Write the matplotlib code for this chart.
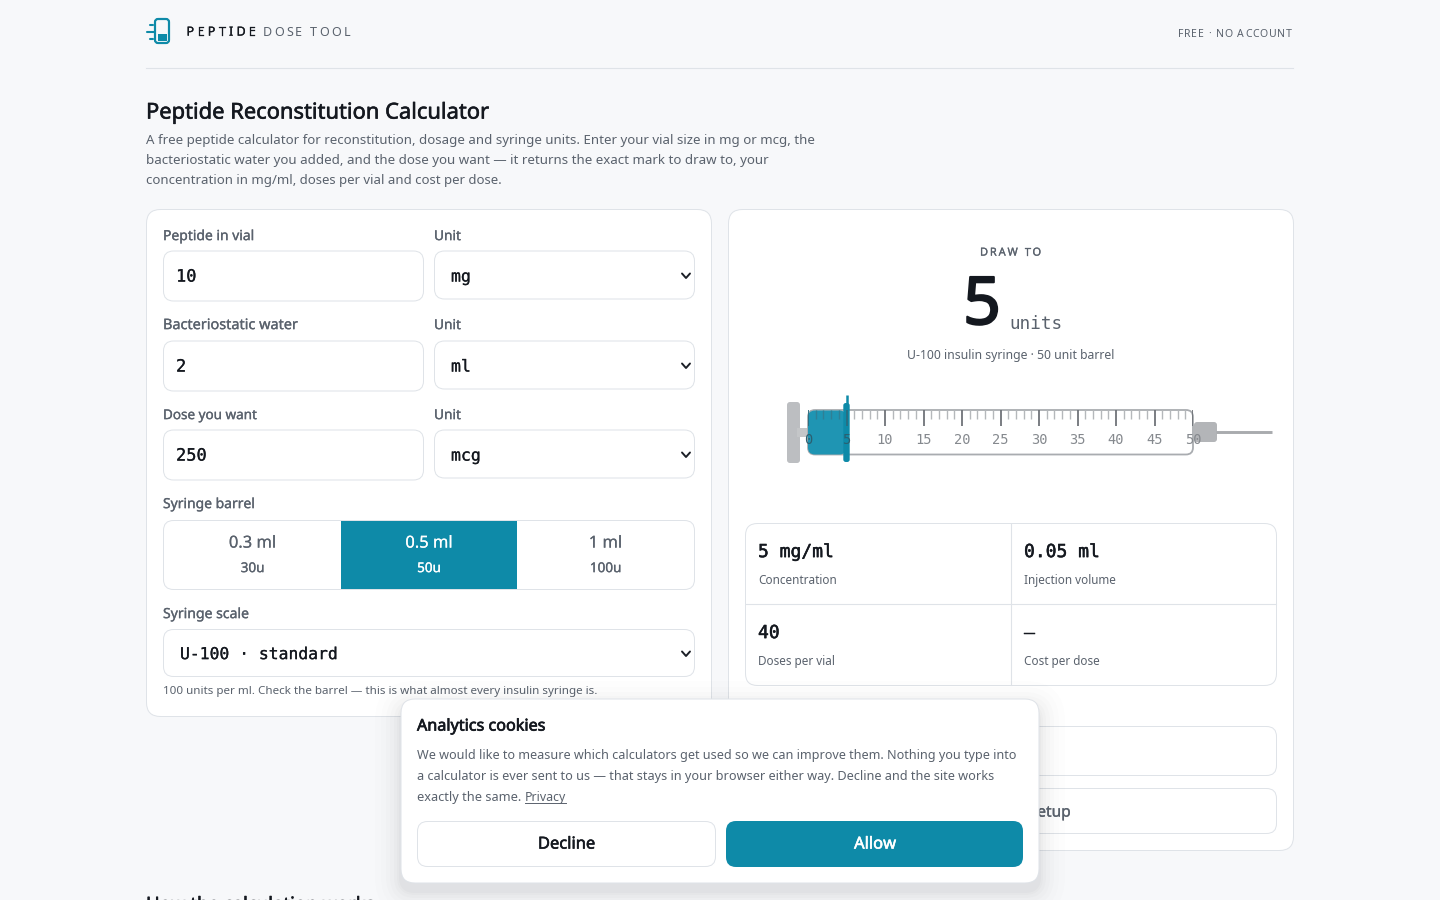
import matplotlib
matplotlib.use("Agg")
import matplotlib.pyplot as plt
import matplotlib.patheffects as pe
from matplotlib.patches import FancyBboxPatch, Rectangle

# ---------- data ----------
dose_units = 5
barrel_units = 50
label_ticks = [0, 5, 10, 15, 20, 25, 30, 35, 40, 45, 50]
minor_ticks = list(range(0, 51))
field_labels = ["Peptide in vial", "Bacteriostatic water", "Dose you want"]
field_label_widths = [91, 135, 94]
field_values = ["10", "2", "250"]
unit_values = ["mg", "ml", "mcg"]
barrel_names = ["0.3 ml", "0.5 ml", "1 ml"]
barrel_caps = ["30u", "50u", "100u"]
result_values = ["5 mg/ml", "0.05 ml", "40", "—"]
result_labels = ["Concentration", "Injection volume", "Doses per vial", "Cost per dose"]

BG = "#f7f8fa"; INK = "#14181f"; GREY = "#5a626d"; LINE = "#dfe3e8"; TEAL = "#0e8aa8"
SANS = "Noto Sans"; MONO = "DejaVu Sans Mono"
WEIGHT = {"normal": 0, "medium": 0.2, "semibold": 0.4, "bold": 0.5}

fig = plt.figure(figsize=(14.4, 9), dpi=100, facecolor=BG)
ax = fig.add_axes([0, 0, 1, 1])
ax.set_xlim(0, 1440); ax.set_ylim(900, 0); ax.axis("off")
R = fig.canvas.get_renderer()

def T(x, y, s, px=14, c=INK, w="normal", ha="left", fam=SANS, width=None, z=5, target=None, stroke=None, **k):
    t = (target or ax).text(x, y + 2.1, s, fontsize=px * 0.72, color=c, ha=ha, va="center",
                            family=fam, zorder=z, **k)
    if width:
        e = t.get_window_extent(R).width
        t.set_fontsize(px * 0.72 * width / e)
    sw = WEIGHT[w] if stroke is None else stroke
    if sw:
        t.set_path_effects([pe.withStroke(linewidth=sw, foreground=c)])
    return t

def TR(x0, x1, y, s, px=12, **k):
    """Letter-spaced text, spread between two pixel positions."""
    widths = []
    for ch in s:
        t = ax.text(0, 0, ch if ch != " " else "n", fontsize=px * 0.72, family=SANS)
        wd = t.get_window_extent(R).width
        t.remove()
        widths.append(wd * 0.45 if ch == " " else wd)
    track = (x1 - x0 - sum(widths)) / (len(s) - 1)
    x = x0
    for ch, wd in zip(s, widths):
        if ch != " ":
            T(x, y, ch, px=px, **k)
        x += wd + track

def box(x0, y0, x1, y1, r=10, fc="white", ec=LINE, lw=1, z=2, alpha=None, target=None):
    p = FancyBboxPatch((x0 + r, y0 + r), x1 - x0 - 2 * r, y1 - y0 - 2 * r,
                       boxstyle=f"round,pad={r},rounding_size={r}", fc=fc, ec=ec, lw=lw * 0.72,
                       zorder=z, alpha=alpha)
    (target or ax).add_patch(p)
    return p

def chevron(x, y, z=4):
    ax.plot([x - 4, x, x + 4], [y - 2, y + 2.5, y - 2], color="#1b1f26", lw=1.4, zorder=z,
            solid_capstyle="round")

# ---------- header ----------
box(155, 19, 169, 43, r=3, fc=BG, ec=TEAL, lw=2.2)
ax.add_patch(Rectangle((157.5, 34), 9, 6.5, fc=TEAL, ec="none", zorder=3))
for y, x0, x1 in [(25, 150, 153), (32, 147, 154), (39, 150, 153)]:
    ax.plot([x0, x1], [y, y], color=TEAL, lw=1.5, zorder=3, solid_capstyle="round")
TR(186.5, 256, 30, "PEPTIDE", px=12.5, w="medium")
TR(262.5, 350, 30, "DOSE TOOL", px=12.5, c=GREY)
TR(1178, 1292, 32, "FREE · NO ACCOUNT", px=10.5, c=GREY)
ax.plot([146, 1293], [68.3, 68.3], color=LINE, lw=0.8)

T(146, 111, "Peptide Reconstitution Calculator", px=23, w="semibold", width=343)
T(146, 138, "A free peptide calculator for reconstitution, dosage and syringe units. Enter your vial size in mg or mcg, the",
  px=14.5, c=GREY, width=665)
T(146, 158, "bacteriostatic water you added, and the dose you want — it returns the exact mark to draw to, your",
  px=14.5, c=GREY, width=620)
T(146, 178, "concentration in mg/ml, doses per vial and cost per dose.", px=14.5, c=GREY, width=354)

# ---------- left panel ----------
box(146.5, 209.5, 711.5, 716.5, r=14)
rows = [(234.5, 251, 301, 275), (323.5, 341, 391, 365), (413.5, 430, 480, 454)]
for (ly, y0, y1, ty), lab, lw_, val, un in zip(rows, field_labels, field_label_widths, field_values, unit_values):
    T(163, ly, lab, px=13.5, c=GREY, w="medium", width=lw_)
    T(434, ly, "Unit", px=13.5, c=GREY, w="medium", width=27)
    box(163.5, y0, 423.5, y1, r=10)
    T(176, ty - 0.5, val, px=17, fam=MONO, c=INK, stroke=0.15)
    box(434.5, y0, 694.5, y1 - 2, r=10)
    T(451, ty - 0.5, un, px=16.5, fam=MONO, c=INK, stroke=0.15)
    chevron(686, ty + 0.5)

T(163, 502.5, "Syringe barrel", px=13.5, c=GREY, w="medium", width=92)
box(163.5, 520.5, 694.5, 589.5, r=10)
ax.add_patch(Rectangle((341, 521), 176, 68, fc=TEAL, ec="none", zorder=3))
for cx, n, cp, act in zip([252.5, 429, 605.5], barrel_names, barrel_caps, [0, 1, 0]):
    T(cx, 541.5, n, px=16.5, c="white" if act else GREY, ha="center", stroke=0.1)
    T(cx, 566.5, cp, px=13.5, c="white" if act else GREY, ha="center", w="medium")

T(163, 612.5, "Syringe scale", px=13.5, c=GREY, w="medium", width=86)
box(163.5, 629.5, 694.5, 676.5, r=10)
T(180, 652.5, "U-100 · standard", px=17, fam=MONO, width=158, stroke=0.15)
chevron(686, 653.5)
T(163, 689.5, "100 units per ml. Check the barrel — this is what almost every insulin syringe is.",
  px=12, c=GREY, width=433)

# ---------- right panel ----------
box(728.5, 209.5, 1293.5, 850.5, r=14)
TR(980, 1041, 251, "DRAW TO", px=11, c=GREY, w="medium")
T(982, 305, str(dose_units), px=66, w="semibold", ha="center", stroke=1.5)
T(1009, 322, "units", px=20, c=GREY, fam=MONO, width=53)
T(1011, 353.5, "U-100 insulin syringe · 50 unit barrel", px=13, c=GREY, ha="center", width=208)

# syringe: overlay in pixels below the tick layer in barrel units
ox = fig.add_axes([0, 0, 1, 1], zorder=3)
ox.set_xlim(0, 1440); ox.set_ylim(900, 0); ox.axis("off"); ox.patch.set_alpha(0)
sx = fig.add_axes([808 / 1440, 1 - 455 / 900, (1193 - 808) / 1440, 45 / 900], zorder=4)
sx.set_xlim(0, barrel_units); sx.set_ylim(45, 0); sx.axis("off"); sx.patch.set_alpha(0)
G = "#a9acb0"
u2x = lambda u: 808 + u * 385.0 / barrel_units

# plunger
box(787, 402, 800, 463, r=3, fc="#bcbec1", ec="none", z=3)
ax.add_patch(Rectangle((797, 428), 12, 9, fc="#c4c6c8", ec="none", zorder=3))
# barrel
box(u2x(0), 410, u2x(barrel_units), 454.5, r=7, fc="white", ec=G, lw=1.8, z=3)
# needle hub + needle
box(1194, 422, 1217, 442, r=3, fc="#b3b5b8", ec="none", z=3)
ax.plot([1216, 1272], [432.3, 432.3], color="#a9abae", lw=2.1, zorder=3, solid_capstyle="butt")
# liquid fill
box(u2x(0), 410.5, u2x(dose_units), 454.5, r=7, fc="#1f95b3", ec="none", z=4, target=ox)
# plunger head at dose mark
ox.plot([u2x(dose_units)] * 2, [395, 411], color=TEAL, lw=1.8, zorder=5, solid_capstyle="butt")
box(u2x(dose_units) - 3.2, 403, u2x(dose_units) + 3.2, 462, r=2.5, fc=TEAL, ec="none", z=5, target=ox)
# ticks and labels
for u in minor_ticks:
    major = u % 5 == 0
    under = u <= dose_units
    col = ("#2c6c7e" if major else "#2f7f95") if under else ("#6f7378" if major else "#b5b8bb")
    sx.plot([u, u], [0, 16 if major else 9], color=col,
            lw=1.3 if major else 1.0, solid_capstyle="butt", zorder=3)
for u in label_ticks:
    sx.text(u, 30, str(u), ha="center", va="center", fontsize=9.9, family=MONO,
            color="#2b5f70" if u <= dose_units else "#85898e", zorder=4)

# results grid
box(745.5, 523.5, 1276.5, 685.5, r=12)
ax.plot([1011.3, 1011.3], [524, 685], color=LINE, lw=0.8, zorder=3)
ax.plot([746, 1276], [604.3, 604.3], color=LINE, lw=0.8, zorder=3)
for (x, y1, y2), v, l in zip([(758, 550, 578.5), (1024, 550, 578.5), (758, 631, 659.5), (1024, 631, 659.5)],
                             result_values, result_labels):
    T(x, y1, v, px=18, fam=MONO, stroke=0.35)
    T(x, y2, l, px=11.7, c=GREY)

box(900, 726.5, 1276.5, 775.5, r=10)
box(900, 788.5, 1276.5, 833.5, r=10)
T(1071, 810.5, "Save this setup", px=15.5, c=GREY, w="medium", ha="right")

# next section heading cut by the page fold, as in the reference
T(146, 903, "How the calculation works", px=21, w="semibold", width=229)

# ---------- cookie banner ----------
for g, a in zip([26, 20, 15, 11, 7, 4, 2], [0.008, 0.009, 0.011, 0.013, 0.015, 0.017, 0.02]):
    box(401 - g, 699 - g + 8, 1039 + g, 883 + g + 8, r=14 + g, fc="#10141c", ec="none", z=6, alpha=a)
box(401, 699, 1039, 883, r=14, fc="white", ec=LINE, z=7)
T(417, 724.5, "Analytics cookies", px=14.5, w="bold", z=8, width=128)
for y, s, w in [(753.5, "We would like to measure which calculators get used so we can improve them. Nothing you type into", 598),
                (774.5, "a calculator is ever sent to us — that stays in your browser either way. Decline and the site works", 576)]:
    T(417, y, s, px=13.5, c=GREY, z=8, width=w)
T(417, 795.5, "exactly the same.", px=13.5, c=GREY, z=8, width=104)
T(525, 795.5, "Privacy", px=13.5, c=GREY, z=8, width=41)
ax.plot([525, 566], [803, 803], color=GREY, lw=0.7, zorder=8)
box(417.5, 821.5, 715.5, 866.5, r=10, z=8)
box(726, 821, 1023, 867, r=10, fc=TEAL, ec="none", z=8)
T(566.5, 842.5, "Decline", px=16.5, w="semibold", ha="center", z=9)
T(875, 842.5, "Allow", px=16.5, w="semibold", c="white", ha="center", z=9)

fig.savefig("out.png", dpi=100, facecolor=BG)
